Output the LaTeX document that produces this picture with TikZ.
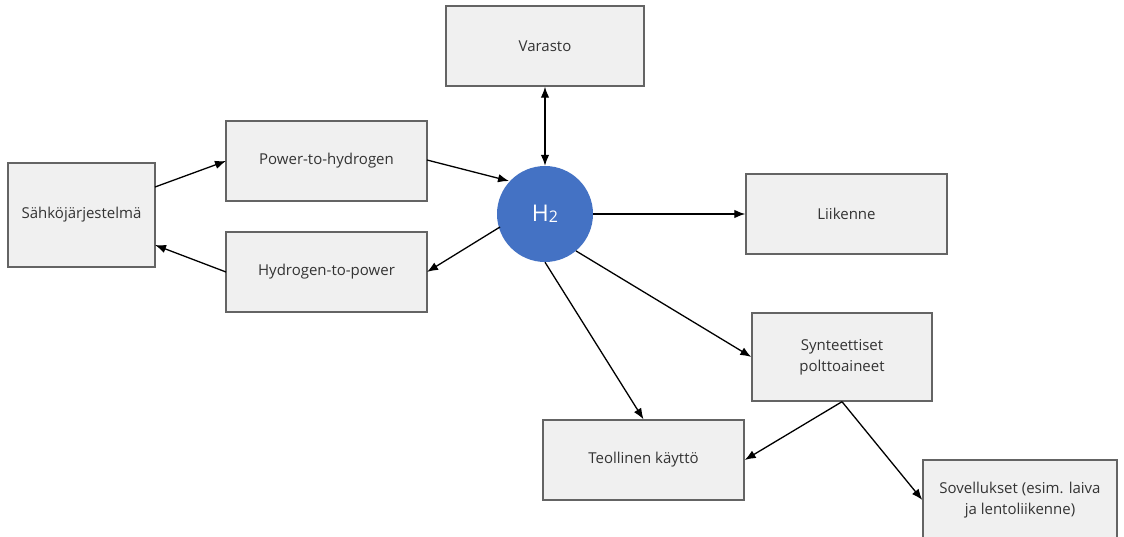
\documentclass[tikz,border=0pt]{standalone}
\usepackage{fontspec}
\setmainfont{Open Sans}
\usetikzlibrary{arrows.meta}
\definecolor{boxfill}{RGB}{240,240,240}
\definecolor{boxline}{RGB}{100,100,100}
\definecolor{hblue}{RGB}{68,114,196}
\begin{document}
\begin{tikzpicture}[x=1pt,y=-1pt,
  box/.style={draw=boxline,line width=1.4pt,fill=boxfill,inner sep=0pt,
    font=\fontsize{15}{21}\selectfont,text=black!80,align=center},
  conn/.style={line width=1.3pt,-{Latex[length=11pt,width=8.5pt]}},
  biconn/.style={line width=1.3pt,{Latex[length=11pt,width=8.5pt]}-{Latex[length=11pt,width=8.5pt]}}]
\useasboundingbox (0,0) rectangle (1124,537);
\fill[white] (0,0) rectangle (1124,537);
% process boxes
\node[box,minimum width=147pt,minimum height=104pt] (sahko) at (81.5,215) {Sähköjärjestelmä};
\node[box,minimum width=201pt,minimum height=80pt] (pth) at (326.5,161) {Power-to-hydrogen};
\node[box,minimum width=201pt,minimum height=80pt] (htp) at (326.5,272) {Hydrogen-to-power};
\node[box,minimum width=198pt,minimum height=80pt] (varasto) at (545,46) {Varasto};
\node[box,minimum width=201pt,minimum height=80pt] (liikenne) at (846.5,214) {Liikenne};
\node[box,minimum width=180pt,minimum height=88pt] (synt) at (842,357) {Synteettiset\\polttoaineet};
\node[box,minimum width=201pt,minimum height=80pt] (teol) at (643.5,460) {Teollinen käyttö};
\node[box,minimum width=194pt,minimum height=80pt] (sov) at (1020,500) {Sovellukset (esim. laiva\\ja lentoliikenne)};
% hydrogen hub
\node[circle,fill=hblue,minimum size=96pt,inner sep=0pt,text=white,
  font=\fontsize{23}{26}\selectfont] (h2) at (545,214) {H\raisebox{-1pt}{\fontsize{16}{18}\selectfont 2}};
% connector end points on the box sides
\coordinate (s1) at (155,187);
\coordinate (p1) at (226,161);
\coordinate (p2) at (427,160);
\coordinate (hA) at (509,181);
\coordinate (hB) at (500,227);
\coordinate (q1) at (427,272);
\coordinate (q2) at (226,272);
\coordinate (s2) at (155,245);
\draw[conn] (s1) -- (p1);
\draw[conn] (p2) -- (hA);
\draw[conn] (hB) -- (q1);
\draw[conn] (q2) -- (s2);
\draw[biconn] (varasto.south) -- (h2.north);
\draw[conn] (h2.east) -- (liikenne.west);
\draw[conn] (h2.-50) -- (synt.west);
\draw[conn] (h2.-90) -- (teol.north);
\draw[conn] (synt.south) -- (teol.east);
\draw[conn] (synt.south) -- (sov.west);
\end{tikzpicture}
\end{document}
